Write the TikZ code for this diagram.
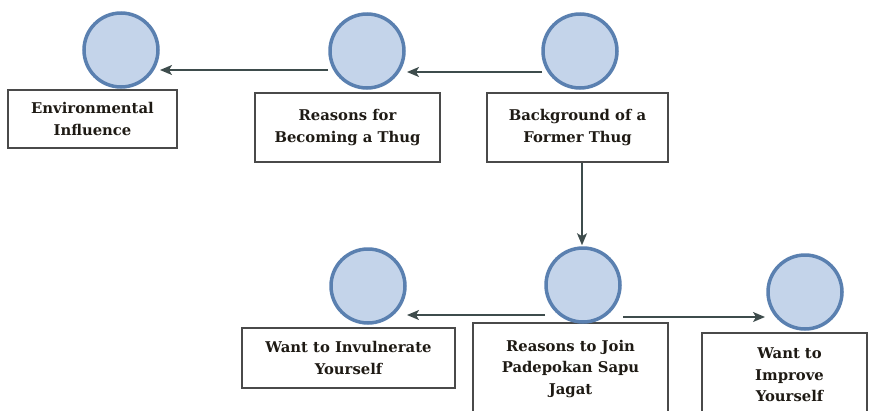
\documentclass[tikz,border=0pt]{standalone}
\usepackage{fontspec}
\setmainfont{DejaVu Serif}
\usetikzlibrary{arrows.meta,calc}
\definecolor{circfill}{HTML}{C4D4EA}
\definecolor{circline}{HTML}{5A80B0}
\definecolor{arrowcol}{HTML}{3E4C4C}
\definecolor{boxline}{HTML}{4A4A4A}
\definecolor{txtcol}{HTML}{1E1A14}
\begin{document}
\begin{tikzpicture}[x=1pt,y=-1pt,
  bubble/.style={circle,draw=circline,fill=circfill,line width=3.5pt,minimum size=74pt,inner sep=0pt},
  labelbox/.style={draw=boxline,line width=1.8pt,fill=white,align=center,inner sep=0pt,
    text=txtcol,font=\fontsize{14.8}{21.5}\selectfont\bfseries},
  link/.style={draw=arrowcol,line width=1.5pt,-{Stealth[length=12pt,width=10pt,inset=3pt]}}]
\useasboundingbox (0,0) rectangle (869,410);
\clip (0,0) rectangle (869,410);
% boxes
\node[labelbox,minimum width=169pt,minimum height=58pt] (b1) at (92.5,119) {Environmental\\Influence};
\node[labelbox,minimum width=185pt,minimum height=69pt] (b2) at (347.5,127.5) {Reasons for\\Becoming a Thug};
\node[labelbox,minimum width=181pt,minimum height=69pt] (b3) at (577.5,127.5) {Background of a\\Former Thug};
\node[labelbox,minimum width=213pt,minimum height=60pt] (b5) at (348.5,358) {Want to Invulnerate\\Yourself};
\node[labelbox,minimum width=195pt,minimum height=92pt] (b4) at (570.5,369) {Reasons to Join\\Padepokan Sapu\\Jagat};
\node[labelbox,minimum width=165pt,minimum height=84pt] (b6) at (784.5,375) {\hspace*{10pt}Want to\\\hspace*{10pt}Improve\\\hspace*{10pt}Yourself};
% circles
\node[bubble] (c1) at (121,50) {};
\node[bubble] (c2) at (367,51) {};
\node[bubble] (c3) at (580,51) {};
\node[bubble] (c4) at (583,285) {};
\node[bubble] (c5) at (368,286) {};
\node[bubble] (c6) at (805,292) {};
% connectors
\draw[link] ($(c3.center)+(-38,21)$) -- ($(c2.center)+(40,21)$);
\draw[link] ($(c2.center)+(-39,19)$) -- ($(c1.center)+(39,20)$);
\draw[link] (b3.south -| c3.center) ++(2,0) -- ($(c4.north)+(-1,-1)$);
\draw[link] ($(c4.center)+(-38,30)$) -- ($(c5.center)+(39,29)$);
\draw[link] ($(c4.center)+(40,32)$) -- ($(c6.center)+(-40,25)$);
\end{tikzpicture}
\end{document}
